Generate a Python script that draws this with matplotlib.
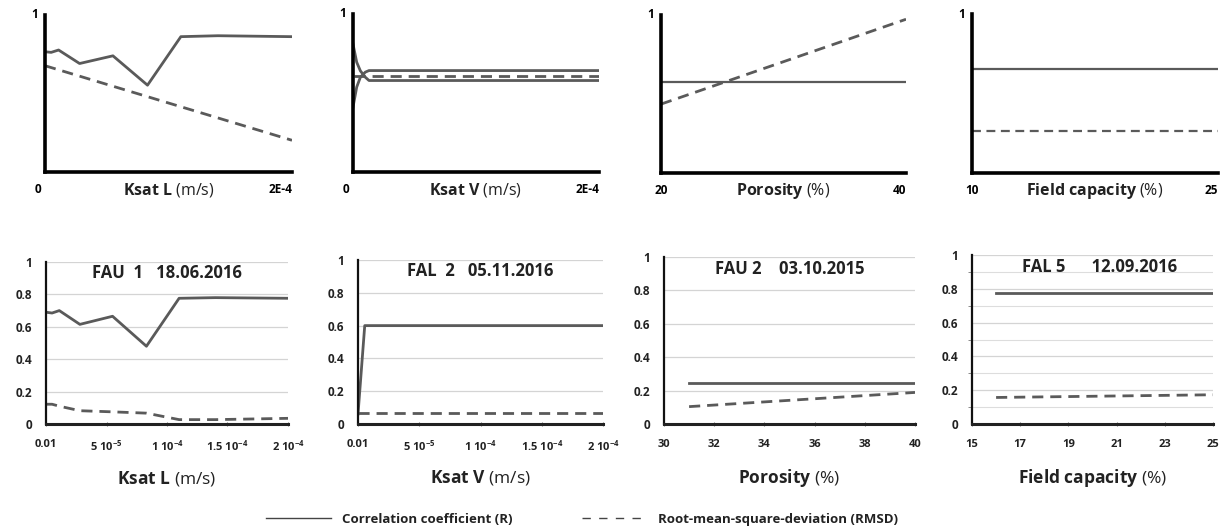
import matplotlib
matplotlib.use("Agg")
import matplotlib.pyplot as plt
from matplotlib.lines import Line2D

plt.rcParams['font.family'] = ['Open Sans', 'DejaVu Sans']
plt.rcParams['mathtext.fontset'] = 'custom'
plt.rcParams['mathtext.rm'] = 'Open Sans'
plt.rcParams['mathtext.bf'] = 'Open Sans:bold'

# ---- data: top row (schematic sensitivity sketches) ----
ksatl_x = [0, 0.5e-5, 1.1e-5, 2.8e-5, 5.5e-5, 8.3e-5, 11.0e-5, 14.0e-5, 20e-5]
top_ksatl_r = [0.766, 0.762, 0.777, 0.691, 0.74, 0.553, 0.862, 0.868, 0.862]
top_ksatl_rmsd_x = [0, 20e-5]
top_ksatl_rmsd = [0.677, 0.202]

top_ksatv_x = [0, 0.3e-5, 0.6e-5, 1.0e-5, 1.3e-5, 20e-5]
top_ksatv_r_upper = [0.81, 0.695, 0.64, 0.60, 0.579, 0.579]
top_ksatv_r_lower = [0.41, 0.537, 0.60, 0.632, 0.642, 0.642]
top_ksatv_rmsd_x = [0.1e-5, 20e-5]
top_ksatv_rmsd = [0.61, 0.61]

top_poro_x = [20, 40]
top_poro_r = [0.577, 0.577]
top_poro_rmsd = [0.436, 0.973]

top_fc_x = [10, 25]
top_fc_r = [0.651, 0.651]
top_fc_rmsd = [0.266, 0.266]

# ---- data: bottom row (model runs) ----
bot_ksatl_r = [0.69, 0.685, 0.70, 0.615, 0.665, 0.48, 0.776, 0.78, 0.776]
bot_ksatl_rmsd = [0.122, 0.122, 0.11, 0.082, 0.075, 0.067, 0.027, 0.027, 0.035]

bot_ksatv_x = [0, 0.55e-5, 20e-5]
bot_ksatv_r = [0.06, 0.6, 0.6]
bot_ksatv_rmsd_x = [0, 20e-5]
bot_ksatv_rmsd = [0.068, 0.068]

bot_poro_x = [31, 40]
bot_poro_r = [0.243, 0.243]
bot_poro_rmsd = [0.104, 0.189]

bot_fc_x = [16, 25]
bot_fc_r = [0.778, 0.778]
bot_fc_rmsd = [0.157, 0.173]

ksat_ticks = [0, 5e-5, 10e-5, 15e-5, 20e-5]
ksat_ticklabels = ['0.01', r'5 10$^{\mathbf{-5}}$', r'1 10$^{\mathbf{-4}}$',
                   r'1.5 10$^{\mathbf{-4}}$', r'2 10$^{\mathbf{-4}}$']

titles = ['FAU  1   18.06.2016', 'FAL  2   05.11.2016',
          'FAU 2    03.10.2015', 'FAL 5      12.09.2016']
xlabels = [r'Ksat L $\mathrm{(m/s)}$', r'Ksat V $\mathrm{(m/s)}$',
           r'Porosity $\mathrm{(\%)}$', r'Field capacity $\mathrm{(\%)}$']
legend_labels = ['Correlation coefficient (R)', 'Root-mean-square-deviation (RMSD)']

LINE = '#5a5a5a'
W, H = 1228, 528


def px_axes(fig, x0, x1, ytop, ybot):
    return fig.add_axes([x0 / W, 1 - ybot / H, (x1 - x0) / W, (ybot - ytop) / H])


fig = plt.figure(figsize=(W / 100, H / 100), dpi=100)

# ---------------- top row ----------------
top_boxes = [(45, 292, 15, 172), (353, 599, 14, 172), (661, 906, 15, 173), (972, 1218, 14, 173)]
top_ranges = [(0, 20e-5), (0, 20e-5), (20, 40), (10, 25)]
top_ends = [('0', '2E-4'), ('0', '2E-4'), ('20', '40'), ('10', '25')]
top_axes = []
for i, box in enumerate(top_boxes):
    ax = px_axes(fig, *box)
    ax.set_xlim(*top_ranges[i])
    ax.set_ylim(0, 1)
    for s in ['top', 'right']:
        ax.spines[s].set_visible(False)
    for s in ['left', 'bottom']:
        ax.spines[s].set_linewidth(2.6)
        ax.spines[s].set_color('black')
    ax.set_xticks([])
    ax.set_yticks([])
    ax.text(-0.03, 1.0, '1', transform=ax.transAxes, ha='right', va='center',
            fontsize=8.5, fontweight='bold')
    hgt = box[3] - box[2]
    ly = -18 / hgt
    left_off = -0.03 if i < 2 else 0.0
    ax.text(left_off, ly, top_ends[i][0], transform=ax.transAxes, ha='center',
            va='center', fontsize=8.5, fontweight='bold')
    ax.text(1.0, ly, top_ends[i][1], transform=ax.transAxes, ha='right',
            va='center', fontsize=8.5, fontweight='bold')
    ax.text(0.5, ly, xlabels[i], transform=ax.transAxes, ha='center', va='center',
            fontsize=11.5, fontweight='bold', color='#222222')
    top_axes.append(ax)

dash = (4, 2.5)
ax = top_axes[0]
ax.plot(ksatl_x, top_ksatl_r, color=LINE, lw=2)
ax.plot(top_ksatl_rmsd_x, top_ksatl_rmsd, color=LINE, lw=2, ls='--', dashes=dash)
ax = top_axes[1]
ax.plot(top_ksatv_x, top_ksatv_r_upper, color=LINE, lw=2)
ax.plot(top_ksatv_x, top_ksatv_r_lower, color=LINE, lw=2)
ax.plot(top_ksatv_rmsd_x, top_ksatv_rmsd, color=LINE, lw=2, ls='--', dashes=dash)
ax = top_axes[2]
ax.plot(top_poro_x, top_poro_r, color=LINE, lw=1.6)
ax.plot(top_poro_x, top_poro_rmsd, color=LINE, lw=2, ls='--', dashes=dash)
ax = top_axes[3]
ax.plot(top_fc_x, top_fc_r, color=LINE, lw=1.6)
ax.plot(top_fc_x, top_fc_rmsd, color=LINE, lw=1.6, ls='--', dashes=dash)

# ---------------- bottom row ----------------
bot_boxes = [(46, 288, 262, 424), (358, 603, 260, 424), (664, 915, 257, 424), (972, 1213, 255, 424)]
bot_ranges = [(0, 20e-5), (0, 20e-5), (30, 40), (15, 25)]
bot_ticks = [ksat_ticks, ksat_ticks, [30, 32, 34, 36, 38, 40], [15, 17, 19, 21, 23, 25]]
title_x = [0.5, 0.5, 0.5, 0.53]
bot_axes = []
for i, box in enumerate(bot_boxes):
    ax = px_axes(fig, *box)
    ax.set_xlim(*bot_ranges[i])
    ax.set_ylim(0, 1)
    for s in ['top', 'right']:
        ax.spines[s].set_visible(False)
    ax.spines['left'].set_linewidth(1.6)
    ax.spines['bottom'].set_linewidth(2.2)
    ax.spines['left'].set_color('#111111')
    ax.spines['bottom'].set_color('#222222')
    ax.set_yticks([0, 0.2, 0.4, 0.6, 0.8, 1])
    ax.set_yticklabels(['0', '0.2', '0.4', '0.6', '0.8', '1'])
    if i == 3:
        ax.set_yticks([0.1, 0.3, 0.5, 0.7, 0.9], minor=True)
        ax.grid(axis='y', which='minor', color='#dddddd', lw=0.8)
        ax.tick_params(axis='y', which='minor', length=3, color='#777777')
    ax.grid(axis='y', which='major', color='#d4d4d4', lw=0.9)
    ax.set_axisbelow(True)
    ax.set_xticks(bot_ticks[i])
    if i < 2:
        ax.set_xticklabels(ksat_ticklabels)
    ax.tick_params(axis='y', which='major', length=0, pad=10, labelsize=8.5)
    ax.tick_params(axis='x', length=3, direction='inout', pad=9, labelsize=8,
                   color='#777777')
    for lab in ax.get_xticklabels() + ax.get_yticklabels():
        lab.set_fontweight('bold')
        lab.set_color('#222222')
    hgt = box[3] - box[2]
    ax.text(0.5, -54 / hgt, xlabels[i], transform=ax.transAxes, ha='center',
            va='center', fontsize=12.5, fontweight='bold', color='#222222')
    ax.text(title_x[i], 0.93, titles[i], transform=ax.transAxes, ha='center',
            va='center', fontsize=12, fontweight='bold', color='#222222')
    bot_axes.append(ax)

ax = bot_axes[0]
ax.plot(ksatl_x, bot_ksatl_r, color=LINE, lw=2)
ax.plot(ksatl_x, bot_ksatl_rmsd, color=LINE, lw=2, ls='--', dashes=dash)
ax = bot_axes[1]
ax.plot(bot_ksatv_x, bot_ksatv_r, color=LINE, lw=2)
ax.plot(bot_ksatv_rmsd_x, bot_ksatv_rmsd, color=LINE, lw=2, ls='--', dashes=dash)
ax = bot_axes[2]
ax.plot(bot_poro_x, bot_poro_r, color=LINE, lw=2)
ax.plot(bot_poro_x, bot_poro_rmsd, color=LINE, lw=2, ls='--', dashes=dash)
ax = bot_axes[3]
ax.plot(bot_fc_x, bot_fc_r, color=LINE, lw=2)
ax.plot(bot_fc_x, bot_fc_rmsd, color=LINE, lw=2, ls='--', dashes=dash)

# ---------------- legend ----------------
handles = [Line2D([], [], color='#444444', lw=1.0),
           Line2D([], [], color='#444444', lw=1.0, ls='--', dashes=(6, 6))]
leg = fig.legend(handles, legend_labels,
                 loc='center', bbox_to_anchor=(0.474, 0.016), ncol=2, frameon=False,
                 handlelength=4.9, handletextpad=0.85, columnspacing=5.3,
                 prop={'weight': 'bold', 'size': 9.5})
for t in leg.get_texts():
    t.set_color('#222222')

fig.savefig('out.png', dpi=100)
